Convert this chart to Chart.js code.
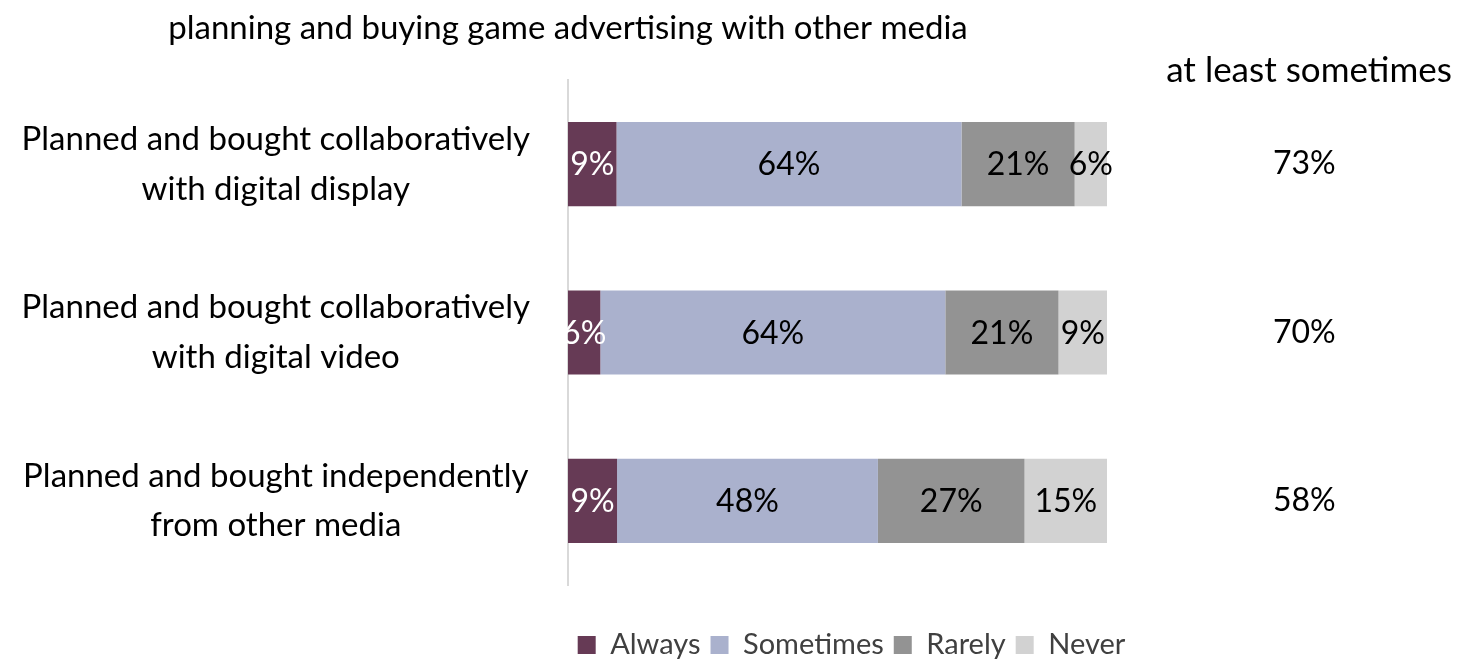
<!DOCTYPE html>
<html>
<head>
<meta charset="utf-8">
<script src="https://cdn.jsdelivr.net/npm/chart.js@4"></script>
<style>
  html, body { margin: 0; padding: 0; background: #fff; }
</style>
</head>
<body>
<canvas id="grafico" width="1463" height="661"></canvas>
<script>
// Dados
const titulo = "planning and buying game advertising with other media";
const tituloDireita = "at least sometimes";
const categorias = [
    ["Planned and bought collaboratively", "with digital display"],
    ["Planned and bought collaboratively", "with digital video"],
    ["Planned and bought independently", "from other media"]
];
const series = ["Always", "Sometimes", "Rarely", "Never"];
// valores estimados pelo comprimento das barras (rótulos arredondados)
const always = [9, 6, 9.1];
const sometimes = [64, 64, 48.4];
const rarely = [21, 21, 27.2];
const never = [6, 9, 15.3];
const peloMenosAsVezes = ["73%", "70%", "58%"];

const cores = ["#663a55", "#aab1cd", "#939393", "#d2d2d2"];
const coresTexto = ["#ffffff", "#000000", "#000000", "#000000"];
const fonte = "Lato";

const valores = [always, sometimes, rarely, never];

// sem padding extra dos rótulos (senão a área das barras encolhe)
function semPadding(scale) {
    scale.paddingTop = 0;
    scale.paddingBottom = 0;
}

// Textos extras (título e cabeçalho da direita) + rótulos dentro das barras
const textosExtras = {
    id: "textosExtras",
    afterLayout(chart) {
        // legenda centrada debaixo das barras, mais para baixo
        const area = chart.chartArea;
        const leg = chart.legend;
        const dx = (area.left + area.right) / 2 + 14 - (leg.left + leg.right) / 2;
        const dy = 645 - (leg.top + leg.bottom) / 2;
        leg.left += dx;
        leg.right += dx;
        leg.top += dy;
        leg.bottom += dy;
    },
    afterDatasetsDraw(chart) {
        const ctx = chart.ctx;
        ctx.save();
        ctx.font = "32px " + fonte;
        ctx.textAlign = "center";
        ctx.textBaseline = "middle";
        chart.data.datasets.forEach((ds, i) => {
            const meta = chart.getDatasetMeta(i);
            meta.data.forEach((bar, j) => {
                ctx.fillStyle = coresTexto[i];
                ctx.fillText(Math.round(ds.data[j]) + "%", (bar.x + bar.base) / 2, bar.y + 1);
            });
        });
        ctx.restore();
    },
    afterDraw(chart) {
        const ctx = chart.ctx;
        const area = chart.chartArea;
        ctx.save();
        ctx.fillStyle = "#000";
        ctx.textAlign = "center";
        ctx.textBaseline = "middle";
        ctx.font = "33px " + fonte;
        ctx.fillText(titulo, area.left, 28);
        ctx.font = "35px " + fonte;
        ctx.fillText(tituloDireita, 1309, 71);
        ctx.restore();
    }
};

const grafico = new Chart(document.getElementById("grafico"), {
    type: "bar",
    data: {
        labels: categorias,
        datasets: series.map((nome, i) => ({
            label: nome,
            data: valores[i],
            backgroundColor: cores[i],
            borderWidth: 0,
            categoryPercentage: 0.5,
            barPercentage: 1
        }))
    },
    options: {
        indexAxis: "y",
        responsive: false,
        animation: false,
        layout: { padding: { top: 80, left: 0, right: 0, bottom: 27 } },
        plugins: {
            legend: {
                position: "bottom",
                labels: {
                    color: "#404040",
                    font: { family: fonte, size: 29 },
                    boxWidth: 18,
                    boxHeight: 18,
                    padding: 10
                }
            },
            tooltip: { enabled: false },
            title: { display: false }
        },
        scales: {
            x: {
                stacked: true,
                min: 0,
                max: 100,
                display: false
            },
            y: {
                stacked: true,
                grid: { display: false },
                border: { display: true, color: "#d9d9d9", width: 2 },
                ticks: {
                    color: "#000",
                    autoSkip: false,
                    font: { family: fonte, size: 33, lineHeight: 1.5 },
                    crossAlign: "center",
                    padding: 30
                },
                afterFit(scale) { scale.width = 568; semPadding(scale); }
            },
            y2: {
                type: "category",
                position: "right",
                labels: peloMenosAsVezes,
                grid: { display: false },
                border: { display: false },
                ticks: {
                    color: "#000",
                    autoSkip: false,
                    font: { family: fonte, size: 32 },
                    crossAlign: "center",
                    padding: 158
                },
                afterFit(scale) { scale.width = 356; semPadding(scale); }
            }
        }
    },
    plugins: [textosExtras]
});
</script>
</body>
</html>
